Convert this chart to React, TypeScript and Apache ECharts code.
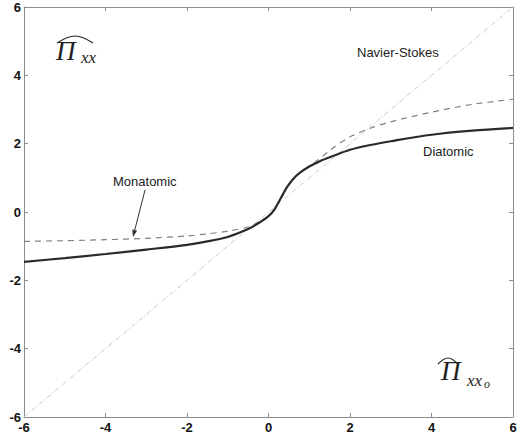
import React, { useEffect, useRef } from "react";
import * as echarts from "echarts";

const xTicks = [-6, -4, -2, 0, 2, 4, 6];

const diatomicX = [-6, -5, -4, -3, -2, -1.5, -1, -0.5, -0.25, 0, 0.15, 0.3, 0.45, 0.6, 0.75, 1, 1.25, 1.5, 2, 2.5, 3, 4, 5, 6];
const diatomicY = [-1.46, -1.35, -1.23, -1.1, -0.96, -0.86, -0.73, -0.5, -0.33, -0.12, 0.08, 0.4, 0.72, 0.96, 1.13, 1.33, 1.48, 1.6, 1.82, 1.96, 2.07, 2.26, 2.38, 2.46];

const monatomicX = [-6, -5, -4, -3, -2, -1.5, -1, -0.5, -0.25, 0, 0.15, 0.3, 0.45, 0.6, 0.75, 1, 1.25, 1.5, 2, 2.5, 3, 4, 5, 6];
const monatomicY = [-0.86, -0.84, -0.81, -0.77, -0.7, -0.64, -0.56, -0.44, -0.31, -0.12, 0.08, 0.4, 0.72, 0.96, 1.13, 1.34, 1.55, 1.8, 2.2, 2.45, 2.64, 2.92, 3.15, 3.3];

const navierX = [-6, 6];
const navierY = [-6, 6];

const zip = (xs: number[], ys: number[]) => xs.map((x, i) => [x, ys[i]]);

export default function App() {
  const ref = useRef<HTMLDivElement>(null);
  useEffect(() => {
    if (!ref.current) return;
    const chart = echarts.init(ref.current, null, { renderer: "svg" });
    const axisColor = "#8c8c8c";
    const labelStyle = {
      color: "#111",
      fontWeight: "bold" as const,
      fontSize: 13,
      fontFamily: "Liberation Sans, Arial, sans-serif",
    };
    const common = {
      type: "value" as const,
      min: -6,
      max: 6,
      interval: 2,
      splitLine: { show: false },
      axisLine: { show: true, onZero: false, lineStyle: { color: axisColor, width: 1 } },
      axisTick: { show: true, inside: true, length: 4, lineStyle: { color: axisColor } },
    };
    const serif = "Liberation Serif, Times New Roman, serif";
    chart.setOption({
      animation: false,
      backgroundColor: "#ffffff",
      grid: { left: 24, right: 14, top: 7, bottom: 20 },
      xAxis: [
        {
          ...common,
          position: "bottom",
          axisLabel: { ...labelStyle, margin: 4, formatter: (v: number) => String(v) },
        },
        { ...common, position: "top", axisLabel: { show: false } },
      ],
      yAxis: [
        {
          ...common,
          position: "left",
          axisLabel: { ...labelStyle, margin: 3, formatter: (v: number) => String(v) },
        },
        { ...common, position: "right", axisLabel: { show: false } },
      ],
      series: [
        {
          name: "Navier-Stokes",
          type: "line",
          data: zip(navierX, navierY),
          showSymbol: false,
          lineStyle: { color: "#c8c8c8", width: 1, type: [5, 2, 1, 2] },
        },
        {
          name: "Monatomic",
          type: "line",
          data: zip(monatomicX, monatomicY),
          showSymbol: false,
          smooth: 0.3,
          lineStyle: { color: "#808080", width: 1.2, type: [6, 5] },
        },
        {
          name: "Diatomic",
          type: "line",
          data: zip(diatomicX, diatomicY),
          showSymbol: false,
          smooth: 0.3,
          lineStyle: { color: "#2a2a2a", width: 2.2 },
        },
      ],
      graphic: [
        { type: "text", left: 357, top: 46, style: { text: "Navier-Stokes", font: "13px Liberation Sans, Arial, sans-serif", fill: "#222" } },
        { type: "text", left: 423, top: 145, style: { text: "Diatomic", font: "13px Liberation Sans, Arial, sans-serif", fill: "#222" } },
        { type: "text", left: 113, top: 175, style: { text: "Monatomic", font: "13px Liberation Sans, Arial, sans-serif", fill: "#222" } },
        { type: "line", shape: { x1: 145, y1: 190, x2: 134.5, y2: 231 }, style: { stroke: "#333", lineWidth: 1 } },
        { type: "polygon", shape: { points: [[133, 237], [137.1, 230.8], [132.3, 229.6]] }, style: { fill: "#333" } },
        // top-left Pi hat xx
        { type: "text", x: 56, y: 37, style: { text: "\u03a0", font: "italic 27px " + serif, fill: "#222" } },
        { type: "text", x: 81, y: 49, style: { text: "xx", font: "italic 17px " + serif, fill: "#222" } },
        { type: "polyline", shape: { points: [[57, 43], [75, 36], [93, 43]], smooth: 0.4 }, style: { stroke: "#222", lineWidth: 1.2, fill: "none" } },
        // bottom-right Pi hat xx_o
        { type: "text", x: 441, y: 357, style: { text: "\u03a0", font: "italic 27px " + serif, fill: "#222" } },
        { type: "text", x: 467, y: 372, style: { text: "xx", font: "italic 17px " + serif, fill: "#222" } },
        { type: "text", x: 484, y: 378, style: { text: "o", font: "italic 12px " + serif, fill: "#222" } },
        { type: "polyline", shape: { points: [[438, 364], [448, 358], [458, 364]], smooth: 0.4 }, style: { stroke: "#222", lineWidth: 1.2, fill: "none" } },
      ],
    });
    return () => chart.dispose();
  }, []);
  return (
    <div
      ref={ref}
      style={{ position: "fixed", left: 0, top: 0, width: 527, height: 437 }}
    />
  );
}
